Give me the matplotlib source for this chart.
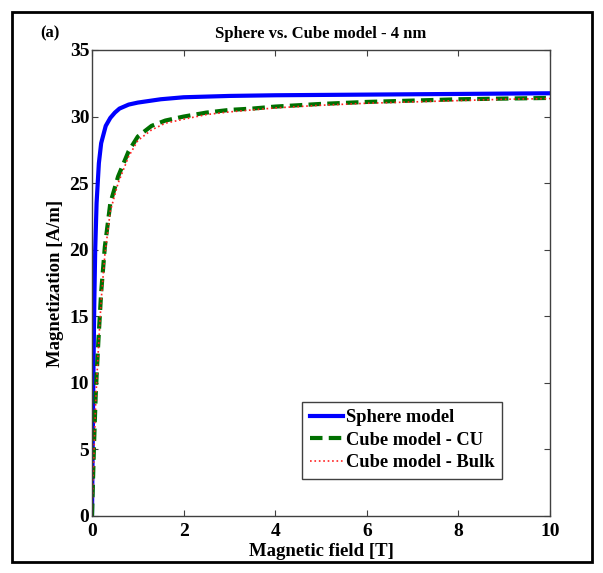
import numpy as np
import matplotlib.pyplot as plt
from matplotlib.patches import Rectangle

# magnetic field [T] and magnetization [A/m]
field_sphere = [0, 0.01, 0.02, 0.03, 0.05, 0.07, 0.1, 0.15, 0.2, 0.3, 0.4, 0.5,
                0.6, 0.8, 1.0, 1.5, 2, 3, 4, 6, 8, 10]
mag_sphere = [0, 3.5, 7, 10.5, 16, 20, 23.5, 26.5, 28.0, 29.3, 29.9, 30.3,
              30.6, 30.9, 31.05, 31.3, 31.45, 31.55, 31.6, 31.65, 31.7, 31.75]

field_cube = [0, 0.02, 0.05, 0.08, 0.1, 0.14, 0.2, 0.28, 0.4, 0.57, 0.8, 1.0,
              1.3, 1.6, 2.0, 2.5, 3, 3.5, 4, 5, 6, 7, 8, 9, 10]
mag_cube_cu = [0, 2.5, 6, 9, 10.5, 13.2, 16.8, 20.2, 23.5, 25.5, 27.4, 28.5,
               29.3, 29.7, 30.0, 30.3, 30.5, 30.6, 30.75, 30.95, 31.1, 31.2, 31.3, 31.35, 31.4]
mag_cube_bulk = [0, 2.3, 5.5, 8.5, 10.0, 12.6, 16.2, 19.6, 22.9, 25.0, 27.0, 28.2,
                 29.0, 29.5, 29.8, 30.15, 30.35, 30.5, 30.65, 30.85, 31.0, 31.1, 31.2, 31.3, 31.35]

plt.rcParams["font.family"] = ["Liberation Serif", "DejaVu Serif"]
plt.rcParams["font.weight"] = "bold"

fig = plt.figure(figsize=(6.03, 5.73), dpi=100)
ax = fig.add_axes([92 / 603, 1 - 516 / 573, 458 / 603, 466 / 573])

ax.plot(field_sphere, mag_sphere, color="#0000ff", lw=3, label="Sphere model")
ax.plot(field_cube, mag_cube_cu, color="#007000", lw=3, dashes=(3, 1.5), label="Cube model - CU")
ax.plot(field_cube, mag_cube_bulk, color="#ff2020", lw=1.2, ls=":", label="Cube model - Bulk")

ax.set_xlim(0, 10)
ax.set_ylim(0, 35)
ax.set_xticks(np.arange(0, 11, 2))
ax.set_yticks(np.arange(0, 36, 5))
ax.tick_params(direction="in", top=True, right=True, labelsize=14, length=4,
               color="#404040", pad=2)
ax.tick_params(axis="x", pad=5)
for s in ax.spines.values():
    s.set_color("#404040")
    s.set_linewidth(1)

ax.set_xlabel("Magnetic field [T]", fontsize=13.5, fontweight="bold", labelpad=2)
ax.set_ylabel("Magnetization [A/m]", fontsize=13.5, fontweight="bold", labelpad=4)
ax.set_title("Sphere vs. Cube model - 4 nm", fontsize=12, fontweight="bold", pad=9)
fig.text(40 / 603, 1 - 33 / 573, "(a)", fontsize=12, fontweight="bold", va="center")

leg = ax.legend(loc="lower right", bbox_to_anchor=(0.895, 0.08), fontsize=13.3,
                handlelength=1.8, handletextpad=0.15, borderpad=0.4, labelspacing=0.3,
                borderaxespad=0, fancybox=False, edgecolor="#404040", framealpha=1)
leg.get_frame().set_linewidth(1)

fig.patches.append(Rectangle((12 / 603, 1 - 562 / 573), 580 / 603, 550 / 573,
                             transform=fig.transFigure, fill=False, edgecolor="black", lw=2))

fig.savefig("out.png", dpi=100)
